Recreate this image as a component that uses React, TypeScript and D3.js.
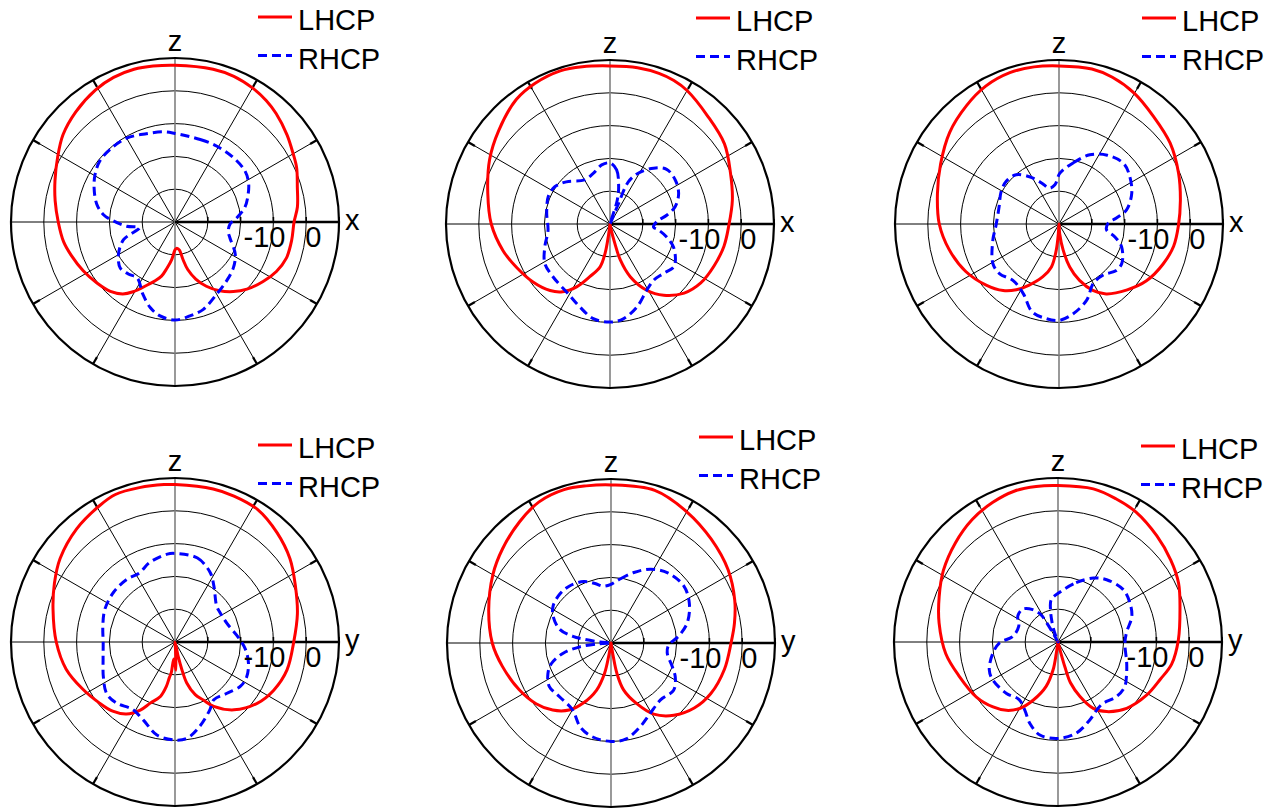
import React from 'react';
import * as d3 from 'd3';

type Pt = [number, number]; // [theta in degrees from z, clockwise; gain in dB]

// ---------- data ----------
const ringLevels = [-30, -20, -10, 0, 10];
const labeledLevels = [-10, 0];
const seriesNames = ['LHCP', 'RHCP'];
const planeAxes = ['x', 'x', 'x', 'y', 'y', 'y'];

const lhcp1: Pt[] = [[0,7.8],[14,8.0],[22,7.9],[30,7.2],[37,6.3],[43,5.2],[52,3.3],[60,1.6],[66,0.6],[74,-1.2],[83,-2.4],[90,-3.7],[99,-4.0],[108,-4.3],[116,-5.6],[124,-7.6],[133,-10.0],[140,-12.3],[147,-15.0],[154,-18.2],[160,-21.5],[165,-25.0],[168,-28.3],[171,-31.3],[176,-32.0],[180,-31.5],[185,-28.5],[190,-25.6],[194,-23.0],[199,-21.0],[204,-18.9],[211,-15.2],[216,-12.9],[223,-11.1],[232,-9.8],[242,-8.3],[252,-6.8],[260,-5.5],[270,-4.4],[280,-2.9],[289,-1.3],[299,0.9],[308,3.3],[318,5.2],[329,7.0],[337,7.9],[345,8.2],[352,8.0]];
const rhcp1: Pt[] = [[0,-13.0],[17,-13.7],[29,-13.6],[42,-13.5],[54,-13.6],[62,-14.6],[69,-16.1],[78,-18.2],[86,-21.1],[92,-23.2],[100,-23.5],[106,-22.6],[118,-19.2],[128,-17.4],[139,-16.1],[150,-14.6],[162,-12.0],[171,-11.0],[180,-10.1],[189,-11.0],[196,-12.8],[204,-15.9],[214,-19.4],[222,-18.7],[230,-18.2],[240,-20.1],[251,-23.4],[261,-29.0],[265,-25.2],[271,-21.2],[276,-18.0],[283,-15.5],[293,-13.2],[301,-11.6],[309,-10.5],[318,-10.3],[330,-10.5],[342,-11.7],[353,-12.3]];

const lhcp2: Pt[] = [[0,8.2],[10,8.4],[18,8.3],[24,7.9],[30,7.0],[42,4.4],[55,2.6],[67,-0.1],[79,-2.0],[91,-3.8],[101,-4.6],[112,-5.8],[123,-7.0],[133,-9.1],[143,-12.8],[151,-16.9],[159,-22.8],[164,-28.6],[166,-33.9],[169,-38.5],[176,-40],[186,-39],[189.5,-31],[193,-26.6],[201,-22.8],[208,-18.3],[215,-14.8],[222,-12.7],[233,-10.6],[245,-8.6],[256,-6.4],[270,-3.8],[284,-1.6],[298,1.6],[310,4.3],[323,7.5],[332,8.6],[342,9.1],[350,8.7]];
const rhcp2: Pt[] = [[0,-21.4],[7,-23.4],[13,-28.3],[17,-32.5],[20,-40],[22.5,-33],[23.5,-26],[29,-22.3],[38,-18.4],[46,-16.0],[56,-16.0],[66,-17.1],[75,-19.4],[81,-22.4],[87,-25.7],[94,-26.7],[97,-25.1],[103,-22.2],[110,-19.4],[119,-17.2],[124,-16.6],[133,-17.8],[142,-18.3],[151,-16.9],[162,-13.4],[172,-10.8],[180,-10.1],[190,-10.7],[200,-13.1],[211,-15.2],[227,-16.3],[239,-16.8],[251,-19.0],[264,-21.0],[280,-20.4],[294,-19.4],[304,-19.7],[314,-21.5],[330,-24.5],[342,-23.7],[352,-21.8]];

const lhcp3: Pt[] = [[0,8.2],[12,8.3],[20,7.6],[30,6.0],[41,3.7],[54,1.9],[67,-0.4],[79,-2.3],[91,-3.6],[101,-4.4],[111,-6.0],[123,-8.2],[134,-11.1],[146,-14.3],[153,-17.3],[160,-21.7],[166,-26.5],[171,-32],[176,-37],[180,-40],[184,-37],[186,-32],[190,-26.7],[197,-23.2],[206,-19.3],[213,-16.1],[220,-13.5],[230,-11.0],[243,-8.1],[257,-5.6],[270,-3.5],[284,-1.8],[297,0.5],[310,3.5],[322,5.8],[332,7.6],[342,8.5],[351,8.5]];
const rhcp3: Pt[] = [[1,-24.5],[13,-20.9],[24,-16.9],[35,-14.4],[47,-13.0],[56,-14.0],[67,-15.9],[78,-18.9],[84,-22.4],[89,-25.0],[97,-25.4],[103,-22.5],[110,-19.7],[122,-17.4],[129,-17.5],[139,-19.4],[150,-19.1],[160,-15.3],[171,-12.3],[180,-10.6],[188,-10.9],[197,-12.0],[207,-16.1],[219,-17.8],[230,-16.4],[239,-16.5],[256,-19.2],[269,-20.8],[286,-21.0],[299,-19.8],[309,-19.3],[319,-20.1],[328,-23.0],[337,-26.4],[345,-28.7],[354,-28.0]];

const lhcp4: Pt[] = [[0,8.0],[14,8.1],[22,8.0],[32,7.6],[43,5.6],[54,3.3],[65,0.5],[77,-1.7],[90,-3.8],[104,-4.8],[116,-6.5],[127,-8.8],[139,-12.6],[149,-17.1],[154,-20.3],[159,-22.8],[164,-27.0],[166,-31.3],[167.5,-35.5],[171,-40],[176,-38],[178,-31.4],[184,-34.8],[187,-30.5],[189,-29.0],[191,-26.2],[195,-22.8],[202,-19.9],[207,-16.7],[214,-13.5],[222,-11.6],[231,-10.4],[243,-8.4],[256,-5.8],[270,-3.8],[285,-1.5],[296,0.9],[306,3.3],[319,5.7],[331,7.5],[338,8.5],[347,8.3],[356,8.1]];
const rhcp4: Pt[] = [[0,-13.0],[15,-13.5],[27,-16.3],[35,-19.3],[49,-23.2],[57,-23.6],[70,-23.2],[86,-20.6],[96,-18.4],[106,-16.7],[116,-15.7],[124,-15.9],[135,-17.8],[146,-18.8],[153,-16.7],[164,-13.1],[173,-10.4],[180,-10.1],[191,-11.1],[202,-14.3],[212,-15.7],[224,-14.2],[233,-13.9],[244,-15.7],[257,-17.5],[269,-18.1],[282,-17.5],[295,-16.4],[309,-15.9],[322,-15.9],[333,-16.3],[342,-14.6],[355,-13.1]];

const lhcp5: Pt[] = [[0,8.2],[16,8.4],[30,6.2],[44,4.0],[58,2.1],[71,-0.1],[81,-1.9],[90,-3.4],[103,-4.5],[117,-5.9],[128,-7.8],[139,-10.8],[149,-14.7],[157,-19.9],[165,-25.2],[169,-30.6],[170.5,-35.8],[175,-40],[186,-40],[190,-35.8],[192,-30.6],[197,-25.0],[205,-19.7],[212,-15.9],[221,-12.9],[231,-10.6],[243,-8.6],[258,-6.1],[270,-3.8],[285,-1.4],[300,1.6],[311,3.8],[323,6.3],[333,8.3],[343,8.9],[351,8.5]];
const rhcp5: Pt[] = [[0,-22.1],[8,-20.3],[18,-17.4],[28,-14.5],[39,-12.5],[52,-11.8],[63,-13.2],[75,-15.9],[84,-19.2],[92,-22.4],[100,-22.6],[111,-20.0],[118,-17.8],[127,-16.1],[139,-17.0],[151,-15.4],[161,-12.9],[171,-10.4],[180,-10.0],[191,-10.8],[200,-12.7],[210,-16.5],[224,-17.3],[235,-17.0],[244,-18.6],[251,-20.8],[258,-25.1],[263,-30.4],[266.5,-36.6],[270,-40],[275,-36.6],[278,-31.4],[280,-28.2],[285,-23.8],[295,-20.5],[303,-19.0],[314,-18.4],[324,-18.5],[336,-19.5],[345,-21.2],[352,-22.5]];

const lhcp6: Pt[] = [[0,7.7],[13,7.9],[22,7.1],[31,6.2],[43,4.2],[54,2.5],[64,0.9],[75,-1.5],[89,-3.3],[101,-4.7],[110,-6.8],[121,-8.5],[134,-10.9],[145,-14.1],[152,-17.1],[158,-22.1],[163,-27.0],[164.5,-32.0],[165.5,-36.5],[172,-40],[184,-40],[188.6,-36.6],[190,-31.4],[195,-26.0],[203,-20.8],[210,-16.6],[217,-13.9],[225,-12.0],[236,-10.0],[251,-8.1],[264,-5.6],[279,-3.3],[291,-1.2],[302,1.2],[314,3.5],[325,5.6],[335,7.0],[344,7.9],[352,7.9]];
const rhcp6: Pt[] = [[2,-24.8],[17,-21.1],[29,-17.7],[38,-15.9],[51,-14.5],[61,-15.0],[71,-16.2],[82,-18.9],[91,-19.6],[107,-18.1],[117,-16.6],[124,-15.5],[133,-15.6],[144,-16.8],[150,-16.2],[158,-14.3],[169,-11.6],[180,-10.6],[191,-11.1],[199,-13.7],[206,-16.9],[214,-18.8],[225,-17.8],[240,-17.0],[248,-17.4],[260,-19.8],[269,-22.1],[277,-26.1],[292,-27.1],[303,-25.4],[313,-25.3],[322,-27.5],[328,-30.2],[329.5,-33.2],[331,-37.3],[335,-40],[340,-37],[343,-33.9],[347,-29.8],[351,-26.9]];

const lhcpSets = [lhcp1, lhcp2, lhcp3, lhcp4, lhcp5, lhcp6];
const rhcpSets = [rhcp1, rhcp2, rhcp3, rhcp4, rhcp5, rhcp6];

// ---------- layout ----------
const W = 1276;
const H = 811;
const R = 164;
const FONT = '"Liberation Sans", Arial, Helvetica, sans-serif';
const FS = 29;
const RED = '#ff0000';
const BLUE = '#0000ff';

const layout = [
  { cx: 175, cy: 222, legX: 258, legDy: -205 },
  { cx: 610, cy: 224, legX: 696, legDy: -206 },
  { cx: 1059, cy: 224, legX: 1142, legDy: -206 },
  { cx: 175, cy: 642, legX: 258, legDy: -197 },
  { cx: 611, cy: 643, legX: 699, legDy: -206 },
  { cx: 1058, cy: 642, legX: 1141, legDy: -196 },
];

const rScale = d3.scaleLinear().domain([-40, 10]).range([0, R]).clamp(true);
const rad = (deg: number) => (deg * Math.PI) / 180;

const radial = d3
  .lineRadial<Pt>()
  .angle((d) => rad(d[0]))
  .radius((d) => rScale(d[1]))
  .curve(d3.curveCatmullRomClosed.alpha(0.5));

const spokeAngles = d3.range(0, 360, 30);

function Panel({ idx }: { idx: number }) {
  const { cx, cy, legX, legDy } = layout[idx];
  const axisName = planeAxes[idx];
  const outer = rScale(10);
  const ly = cy + legDy;
  return (
    <g>
      {/* rings */}
      <g transform={`translate(${cx},${cy})`}>
        {ringLevels.slice(0, -1).map((lv) => (
          <circle key={lv} r={rScale(lv)} fill="none" stroke="#000" strokeWidth={1} />
        ))}
        {/* spokes */}
        {spokeAngles
          .filter((a) => a !== 0 && a !== 180 && a !== 90)
          .map((a) => (
            <line
              key={a}
              x1={0}
              y1={0}
              x2={outer * Math.sin(rad(a))}
              y2={-outer * Math.cos(rad(a))}
              stroke="#000"
              strokeWidth={1}
            />
          ))}
        {/* vertical z line */}
        <line x1={0} y1={-outer} x2={0} y2={outer} stroke="#808080" strokeWidth={1.6} />
        {/* outer circle */}
        <circle r={outer} fill="none" stroke="#000" strokeWidth={2.2} />
        {/* outer ticks */}
        {spokeAngles
          .filter((a) => a % 90 !== 0)
          .map((a) => (
            <line
              key={'t' + a}
              x1={(outer - 8) * Math.sin(rad(a))}
              y1={-(outer - 8) * Math.cos(rad(a))}
              x2={outer * Math.sin(rad(a))}
              y2={-outer * Math.cos(rad(a))}
              stroke="#000"
              strokeWidth={2.2}
            />
          ))}
        {/* radial axis (to the right) */}
        <line x1={0} y1={0} x2={outer} y2={0} stroke="#000" strokeWidth={2.4} />
        {ringLevels.map((lv) => (
          <line key={'rt' + lv} x1={rScale(lv)} y1={-5} x2={rScale(lv)} y2={0} stroke="#000" strokeWidth={1.6} />
        ))}
        {/* curves */}
        <path d={radial(lhcpSets[idx]) || ''} fill="none" stroke={RED} strokeWidth={3} strokeLinejoin="round" />
        <path
          d={radial(rhcpSets[idx]) || ''}
          fill="none"
          stroke={BLUE}
          strokeWidth={3}
          strokeDasharray="9,5"
          strokeLinejoin="round"
        />
        {/* tick labels */}
        <text x={rScale(labeledLevels[0]) + 12} y={25} textAnchor="end" fontFamily={FONT} fontSize={FS}>
          {'-10'}
        </text>
        <text x={rScale(labeledLevels[1]) - 1} y={25} textAnchor="start" fontFamily={FONT} fontSize={FS}>
          {'0'}
        </text>
        {/* axis labels */}
        <text x={0} y={-outer - 7} textAnchor="middle" fontFamily={FONT} fontSize={FS}>
          z
        </text>
        <text x={outer + 6} y={8} textAnchor="start" fontFamily={FONT} fontSize={FS}>
          {axisName}
        </text>
      </g>
      {/* legend */}
      <line x1={legX} y1={ly} x2={legX + 34} y2={ly} stroke={RED} strokeWidth={3} />
      <text x={legX + 40} y={ly + 13} fontFamily={FONT} fontSize={FS}>
        {seriesNames[0]}
      </text>
      <line
        x1={legX}
        y1={ly + 38.5}
        x2={legX + 34}
        y2={ly + 38.5}
        stroke={BLUE}
        strokeWidth={3}
        strokeDasharray="9,5"
      />
      <text x={legX + 40} y={ly + 51.5} fontFamily={FONT} fontSize={FS}>
        {seriesNames[1]}
      </text>
    </g>
  );
}

export default function App() {
  return (
    <svg
      width={W}
      height={H}
      viewBox={`0 0 ${W} ${H}`}
      style={{ position: 'absolute', left: 0, top: 0, background: '#fff' }}
    >
      <rect width={W} height={H} fill="#fff" />
      {layout.map((_, i) => (
        <Panel key={i} idx={i} />
      ))}
    </svg>
  );
}
